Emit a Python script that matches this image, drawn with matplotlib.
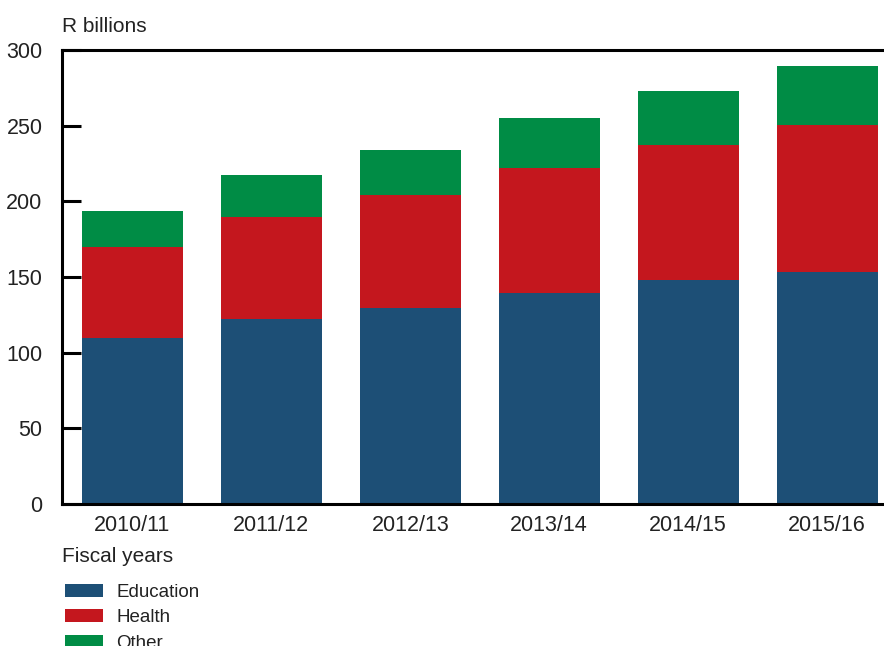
import matplotlib.pyplot as plt
from matplotlib.patches import Patch

plt.rcParams['font.family'] = ['Liberation Sans', 'DejaVu Sans']
plt.rcParams['text.color'] = '#222222'
plt.rcParams['xtick.labelcolor'] = '#222222'
plt.rcParams['ytick.labelcolor'] = '#222222'

years = ['2010/11', '2011/12', '2012/13', '2013/14', '2014/15', '2015/16']
education = [110, 122, 129.5, 139.5, 148, 153.5]
health = [59.5, 67.5, 74.5, 82.5, 89, 97]
other = [24, 28, 30, 33, 36, 39]

colors = {'Education': '#1d4f76', 'Health': '#c4171e', 'Other': '#008c45'}

fig = plt.figure(figsize=(8.84, 6.46), dpi=100)
ax = fig.add_axes([62 / 884, 142 / 646, 822 / 884, 454 / 646])

x = range(len(years))
bottom2 = [e + h for e, h in zip(education, health)]
ax.bar(x, education, width=0.727, color=colors['Education'])
ax.bar(x, health, width=0.727, bottom=education, color=colors['Health'])
ax.bar(x, other, width=0.727, bottom=bottom2, color=colors['Other'])

ax.set_xlim(-0.507, 5.41)
ax.set_ylim(0, 300)
ax.set_yticks([0, 50, 100, 150, 200, 250, 300])
ax.set_xticks(list(x))
ax.set_xticklabels(years)

ax.spines['right'].set_visible(False)
for s in ['left', 'top', 'bottom']:
    ax.spines[s].set_linewidth(2.2)
ax.tick_params(axis='y', direction='in', length=14, width=2.2, labelsize=15.5, pad=14)
ax.tick_params(axis='x', length=0, labelsize=15.5, pad=8)

fig.text(62 / 884, 1 - 27 / 646, 'R billions', fontsize=15, va='center', ha='left')
fig.text(62 / 884, 1 - 557 / 646, 'Fiscal years', fontsize=15, va='center', ha='left')

handles = [Patch(facecolor=c, label=k) for k, c in colors.items()]
fig.legend(handles=handles, loc='upper left', bbox_to_anchor=(57 / 884, 1 - 576 / 646),
           frameon=False, fontsize=13.5, handlelength=2.05, handleheight=0.7,
           labelspacing=0.45, handletextpad=0.7, borderaxespad=0)

fig.savefig('out.png', dpi=100)
